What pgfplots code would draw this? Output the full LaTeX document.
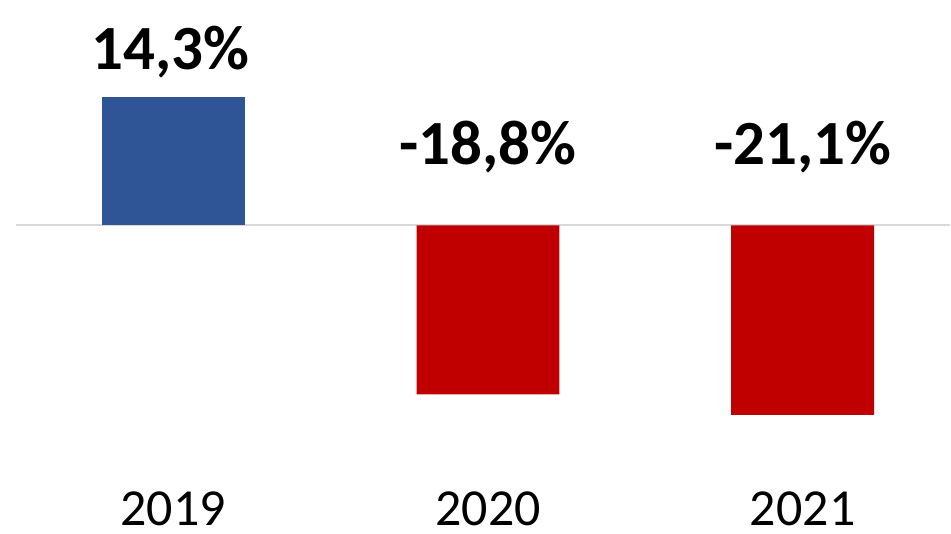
\documentclass[border=0pt]{standalone}
\usepackage{pgfplots}
\pgfplotsset{compat=1.18}
\usepackage{fontspec}
\setmainfont{Carlito}
\definecolor{barblue}{HTML}{2F5597}
\definecolor{barred}{HTML}{C00000}
\definecolor{zerogray}{HTML}{D9D9D9}
\begin{document}
\begin{tikzpicture}
\begin{axis}[
  at={(0pt,0pt)}, anchor=south west,
  scale only axis,
  width=935pt, height=495pt,
  xmin=-0.5, xmax=2.4683, ymin=-30, ymax=25,
  axis x line*=bottom, axis y line=none,
  x axis line style={draw=none},
  major tick length=0pt,
  ybar, bar width=143pt, bar shift=0pt,
  xtick={0,1,2}, xticklabels={2019,2020,2021},
  ytick=\empty,
  clip=false,
  /pgf/number format/assume math mode=true,
  xticklabel style={anchor=base, inner sep=0pt, yshift=-31pt, font=\fontsize{52}{62}\selectfont},
]
\draw[zerogray, line width=2pt] (axis cs:-0.5,0) -- (axis cs:2.4683,0);
\addplot[fill=barblue, draw=none] coordinates {(0,14.3)};
\addplot[fill=barred, draw=none] coordinates {(1,-18.8) (2,-21.1)};
\node[anchor=base, font=\fontsize{63}{75}\selectfont\bfseries] at (axis cs:-0.01,17.28) {14,3\%};
\node[anchor=base, font=\fontsize{63}{75}\selectfont\bfseries] at (axis cs:1,6.72) {-18,8\%};
\node[anchor=base, font=\fontsize{63}{75}\selectfont\bfseries] at (axis cs:2,6.72) {-21,1\%};
\end{axis}
\path (-16pt,-38.5pt) rectangle (935pt,495.5pt);
\end{tikzpicture}
\end{document}
